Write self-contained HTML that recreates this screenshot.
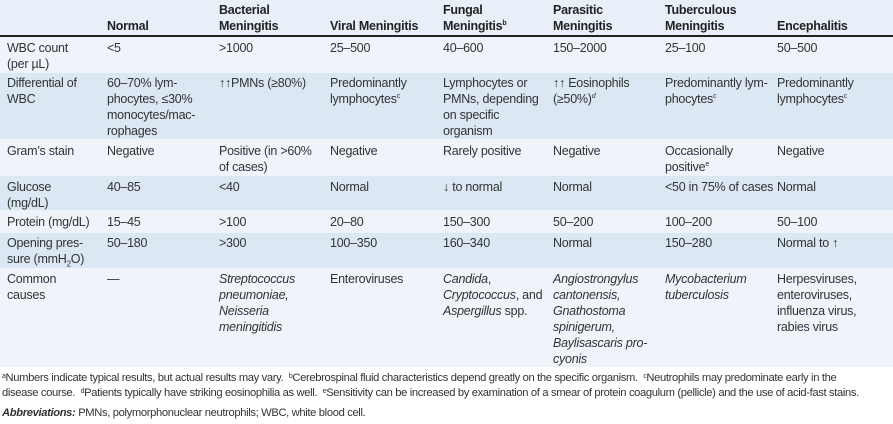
<!DOCTYPE html>
<html><head><meta charset="utf-8"><style>
body{margin:0;width:893px;height:424px;background:#fff;font-family:"Liberation Sans",sans-serif;color:#333;overflow:hidden;position:relative}
.band{position:absolute;left:0;width:893px}
.c{position:absolute;font-size:12.5px;line-height:16px;letter-spacing:-0.25px;white-space:nowrap}
.h{font-weight:bold;color:#222}
i{font-style:italic}
sup{font-size:7px;vertical-align:top;position:relative;top:-2px}
.fn{position:absolute;left:2px;font-size:11.2px;letter-spacing:-0.35px;line-height:15px;white-space:nowrap;color:#333}
</style></head><body>
<div class="band" style="top:0;height:36px;background:#e8eff8"></div>
<div class="band" style="top:35px;height:2px;background:#222"></div>
<div class="band" style="top:37px;height:36px;background:#eef4fa"></div>
<div class="band" style="top:73px;height:66px;background:#dbe7f3"></div>
<div class="band" style="top:139px;height:37px;background:#eef4fa"></div>
<div class="band" style="top:176px;height:34px;background:#dbe7f3"></div>
<div class="band" style="top:210px;height:23px;background:#eef4fa"></div>
<div class="band" style="top:233px;height:35px;background:#dbe7f3"></div>
<div class="band" style="top:268px;height:99px;background:#eef4fa"></div>

<div class="c h" style="left:107px;top:18px">Normal</div>
<div class="c h" style="left:219px;top:2px">Bacterial<br>Meningitis</div>
<div class="c h" style="left:330px;top:18px">Viral Meningitis</div>
<div class="c h" style="left:443px;top:2px">Fungal<br>Meningitis<sup>b</sup></div>
<div class="c h" style="left:553px;top:2px">Parasitic<br>Meningitis</div>
<div class="c h" style="left:665px;top:2px">Tuberculous<br>Meningitis</div>
<div class="c h" style="left:777px;top:18px">Encephalitis</div>

<div class="c" style="left:7px;top:40px">WBC count<br>(per µL)</div>
<div class="c" style="left:107px;top:40px">&lt;5</div>
<div class="c" style="left:219px;top:40px">&gt;1000</div>
<div class="c" style="left:330px;top:40px">25–500</div>
<div class="c" style="left:443px;top:40px">40–600</div>
<div class="c" style="left:553px;top:40px">150–2000</div>
<div class="c" style="left:665px;top:40px">25–100</div>
<div class="c" style="left:777px;top:40px">50–500</div>

<div class="c" style="left:7px;top:75px">Differential of<br>WBC</div>
<div class="c" style="left:107px;top:75px">60–70% lym-<br>phocytes, ≤30%<br>monocytes/mac-<br>rophages</div>
<div class="c" style="left:219px;top:75px">↑↑PMNs (≥80%)</div>
<div class="c" style="left:330px;top:75px">Predominantly<br>lymphocytes<sup>c</sup></div>
<div class="c" style="left:443px;top:75px">Lymphocytes or<br>PMNs, depending<br>on specific<br>organism</div>
<div class="c" style="left:553px;top:75px">↑↑ Eosinophils<br>(≥50%)<sup><i>d</i></sup></div>
<div class="c" style="left:665px;top:75px">Predominantly lym-<br>phocytes<sup>c</sup></div>
<div class="c" style="left:777px;top:75px">Predominantly<br>lymphocytes<sup>c</sup></div>

<div class="c" style="left:7px;top:143px">Gram’s stain</div>
<div class="c" style="left:107px;top:143px">Negative</div>
<div class="c" style="left:219px;top:143px">Positive (in &gt;60%<br>of cases)</div>
<div class="c" style="left:330px;top:143px">Negative</div>
<div class="c" style="left:443px;top:143px">Rarely positive</div>
<div class="c" style="left:553px;top:143px">Negative</div>
<div class="c" style="left:665px;top:143px">Occasionally<br>positive<sup>e</sup></div>
<div class="c" style="left:777px;top:143px">Negative</div>

<div class="c" style="left:7px;top:179px">Glucose<br>(mg/dL)</div>
<div class="c" style="left:107px;top:179px">40–85</div>
<div class="c" style="left:219px;top:179px">&lt;40</div>
<div class="c" style="left:330px;top:179px">Normal</div>
<div class="c" style="left:443px;top:179px">↓ to normal</div>
<div class="c" style="left:553px;top:179px">Normal</div>
<div class="c" style="left:665px;top:179px">&lt;50 in 75% of cases</div>
<div class="c" style="left:777px;top:179px">Normal</div>

<div class="c" style="left:7px;top:214px">Protein (mg/dL)</div>
<div class="c" style="left:107px;top:214px">15–45</div>
<div class="c" style="left:219px;top:214px">&gt;100</div>
<div class="c" style="left:330px;top:214px">20–80</div>
<div class="c" style="left:443px;top:214px">150–300</div>
<div class="c" style="left:553px;top:214px">50–200</div>
<div class="c" style="left:665px;top:214px">100–200</div>
<div class="c" style="left:777px;top:214px">50–100</div>

<div class="c" style="left:7px;top:235px">Opening pres-<br>sure (mmH<sub style="font-size:8px">2</sub>O)</div>
<div class="c" style="left:107px;top:235px">50–180</div>
<div class="c" style="left:219px;top:235px">&gt;300</div>
<div class="c" style="left:330px;top:235px">100–350</div>
<div class="c" style="left:443px;top:235px">160–340</div>
<div class="c" style="left:553px;top:235px">Normal</div>
<div class="c" style="left:665px;top:235px">150–280</div>
<div class="c" style="left:777px;top:235px">Normal to ↑</div>

<div class="c" style="left:7px;top:271px">Common<br>causes</div>
<div class="c" style="left:107px;top:271px">—</div>
<div class="c" style="left:219px;top:271px"><i>Streptococcus<br>pneumoniae,<br>Neisseria<br>meningitidis</i></div>
<div class="c" style="left:330px;top:271px">Enteroviruses</div>
<div class="c" style="left:443px;top:271px"><i>Candida</i>,<br><i>Cryptococcus</i>, and<br><i>Aspergillus</i> spp.</div>
<div class="c" style="left:553px;top:271px"><i>Angiostrongylus<br>cantonensis,<br>Gnathostoma<br>spinigerum,<br>Baylisascaris pro-<br>cyonis</i></div>
<div class="c" style="left:665px;top:271px"><i>Mycobacterium<br>tuberculosis</i></div>
<div class="c" style="left:777px;top:271px">Herpesviruses,<br>enteroviruses,<br>influenza virus,<br>rabies virus</div>

<div class="fn" style="top:371px"><sup>a</sup>Numbers indicate typical results, but actual results may vary. &nbsp;<sup>b</sup>Cerebrospinal fluid characteristics depend greatly on the specific organism. &nbsp;<sup>c</sup>Neutrophils may predominate early in the</div>
<div class="fn" style="top:386px">disease course. &nbsp;<sup>d</sup>Patients typically have striking eosinophilia as well. &nbsp;<sup>e</sup>Sensitivity can be increased by examination of a smear of protein coagulum (pellicle) and the use of acid-fast stains.</div>
<div class="fn" style="top:406px"><b><i>Abbreviations:</i></b> PMNs, polymorphonuclear neutrophils; WBC, white blood cell.</div>
</body></html>
